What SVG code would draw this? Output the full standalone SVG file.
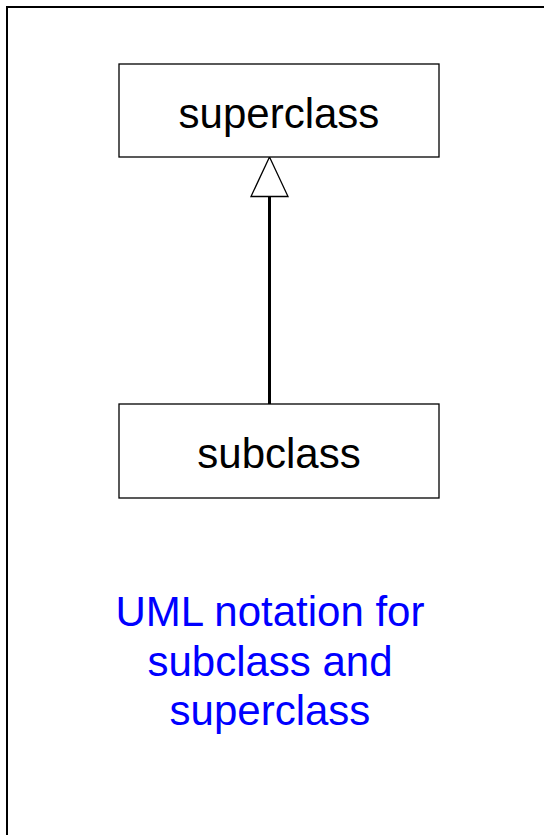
<svg xmlns="http://www.w3.org/2000/svg" width="544" height="835" viewBox="0 0 544 835">
  <defs>
    <style>
      .box { fill: #ffffff; stroke: #000000; stroke-width: 1.3; }
      .label { font-family: "Liberation Sans", Arial, sans-serif; font-size: 42px; fill: #000000; text-anchor: middle; }
      .caption { font-family: "Liberation Sans", Arial, sans-serif; font-size: 42px; fill: #0000ff; text-anchor: middle; }
      .edge { stroke: #000000; stroke-width: 3; fill: none; }
      .head { fill: #ffffff; stroke: #000000; stroke-width: 1.3; }
    </style>
  </defs>
  <rect x="0" y="0" width="544" height="835" fill="#ffffff"/>
  <rect x="7" y="7" width="545" height="840" fill="none" stroke="#000000" stroke-width="2"/>
  <g id="connectors">
    <line class="edge" x1="269.5" y1="196" x2="269.5" y2="404"/>
    <polygon class="head" points="269.5,157 251,196.5 288,196.5"/>
  </g>
  <g id="superclass">
    <rect class="box" x="119" y="64" width="320" height="93"/>
    <text class="label" x="279" y="128">superclass</text>
  </g>
  <g id="subclass">
    <rect class="box" x="119" y="404" width="320" height="94"/>
    <text class="label" x="279" y="468">subclass</text>
  </g>
  <g id="caption">
    <text class="caption" x="270" y="626">UML notation for</text>
    <text class="caption" x="270" y="675.5">subclass and</text>
    <text class="caption" x="270" y="725">superclass</text>
  </g>
</svg>
